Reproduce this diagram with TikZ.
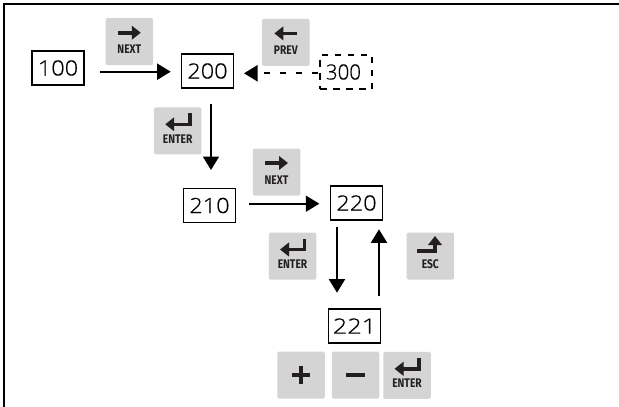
\documentclass[tikz,border=0pt]{standalone}
\usepackage{fontspec}
\usepackage{graphicx}
\setmainfont[FakeStretch=1.12,FakeBold=0.5]{Open Sans Light}
\newfontfamily\keyfont[FakeStretch=0.82]{Fira Sans}
\usetikzlibrary{arrows.meta}
\definecolor{keygrey}{RGB}{212,212,212}
\definecolor{keydark}{RGB}{35,31,32}
\tikzset{
 x=1pt,y=-1pt,
 screen/.style={draw=black,line width=1.9pt,inner sep=0pt,minimum width=52pt,minimum height=34pt,font=\fontsize{21}{21}\selectfont},
 dashscreen/.style={screen,dash pattern=on 6.5pt off 6.5pt},
 link/.style={draw=black,line width=1.8pt,-{Triangle[length=13.5pt,width=16pt]}},
 dashlink/.style={link,dash pattern=on 6pt off 10pt},
 keybox/.style={fill=keygrey,rounded corners=1.5pt,minimum width=47.5pt,minimum height=47pt,inner sep=0pt},
 keylabel/.style={font=\keyfont\bfseries\fontsize{12.5}{12.5}\selectfont,text=keydark,inner sep=0pt},
 glyph/.style={draw=keydark,line width=3.6pt},
 keytip/.style={-{Triangle[length=9pt,width=13.5pt]}},
}
\newcommand{\nextkey}[2]{\node[keybox] (#1) at (#2) {};
 \draw[glyph,keytip] ([shift={(-11.5,-9)}]#1.center) -- ([shift={(11.5,-9)}]#1.center);
 \node[keylabel] at ([shift={(0,7.8)}]#1.center) {NEXT};}
\newcommand{\enterkey}[2]{\node[keybox] (#1) at (#2) {};
 \draw[glyph,keytip] ([shift={(12,-17.5)}]#1.center) |- ([shift={(-12.5,-6.5)}]#1.center);
 \node[keylabel] at ([shift={(0,8)}]#1.center) {ENTER};}
\begin{document}
\begin{tikzpicture}
\useasboundingbox (0,0) rectangle (619,407);
\draw[line width=2.4pt] (4,407) -- (4,4) -- (619,4);
\node[screen] (n100) at (58,68) {100};
\node[screen] (n200) at (207.5,71) {200};
\node[dashscreen] (n300) at (346,72) {\hspace*{-5pt}\scalebox{0.87}[1]{300}};
\node[screen] (n210) at (209.5,205.5) {210};
\node[screen] (n220) at (356.5,203) {220};
\node[screen] (n221) at (354.5,326) {\scalebox{1.08}[1]{221}};
\coordinate (a1s) at (100,71.7); \coordinate (a1e) at (170.7,71.7);
\coordinate (a2s) at (318,73.3); \coordinate (a2e) at (244,73.3);
\coordinate (a3s) at (211,104); \coordinate (a3e) at (211,170);
\coordinate (a4s) at (249,203.7); \coordinate (a4e) at (319.3,203.7);
\coordinate (a5s) at (337,227.3); \coordinate (a5e) at (337,292.7);
\coordinate (a6s) at (379,296); \coordinate (a6e) at (379,229.3);
\draw[link] (a1s) -- (a1e);
\draw[dashlink] (a2s) -- (a2e);
\draw[link] (a3s) -- (a3e);
\draw[link] (a4s) -- (a4e);
\draw[link] (a5s) -- (a5e);
\draw[link] (a6s) -- (a6e);
\nextkey{knext}{129.3,41.7}
\enterkey{kenter}{177.7,130.8}
\nextkey{knextb}{276.5,172}
\enterkey{kenterb}{292.5,256}
\enterkey{kenterc}{407,375.3}
\node[keybox] (kprev) at (285.8,42.4) {};
\draw[glyph,keytip] ([shift={(11.5,-9)}]kprev.center) -- ([shift={(-11.5,-9)}]kprev.center);
\node[keylabel] at ([shift={(0,7.8)}]kprev.center) {PREV};
\node[keybox] (kesc) at (430.3,256) {};
\draw[glyph,keytip] ([shift={(-13,-5)}]kesc.center) -| ([shift={(4.7,-20)}]kesc.center);
\node[keylabel] at ([shift={(0,8)}]kesc.center) {ESC};
\node[keybox] (kplus) at (301,375) {};
\draw[glyph,line width=4.5pt] ([shift={(-9.3,0)}]kplus.center) -- ([shift={(9.3,0)}]kplus.center);
\draw[glyph,line width=4.5pt] ([shift={(0,-9.3)}]kplus.center) -- ([shift={(0,9.3)}]kplus.center);
\node[keybox] (kminus) at (355.7,375) {};
\draw[glyph,line width=4.5pt] ([shift={(-9.3,0)}]kminus.center) -- ([shift={(9.3,0)}]kminus.center);
\end{tikzpicture}
\end{document}
